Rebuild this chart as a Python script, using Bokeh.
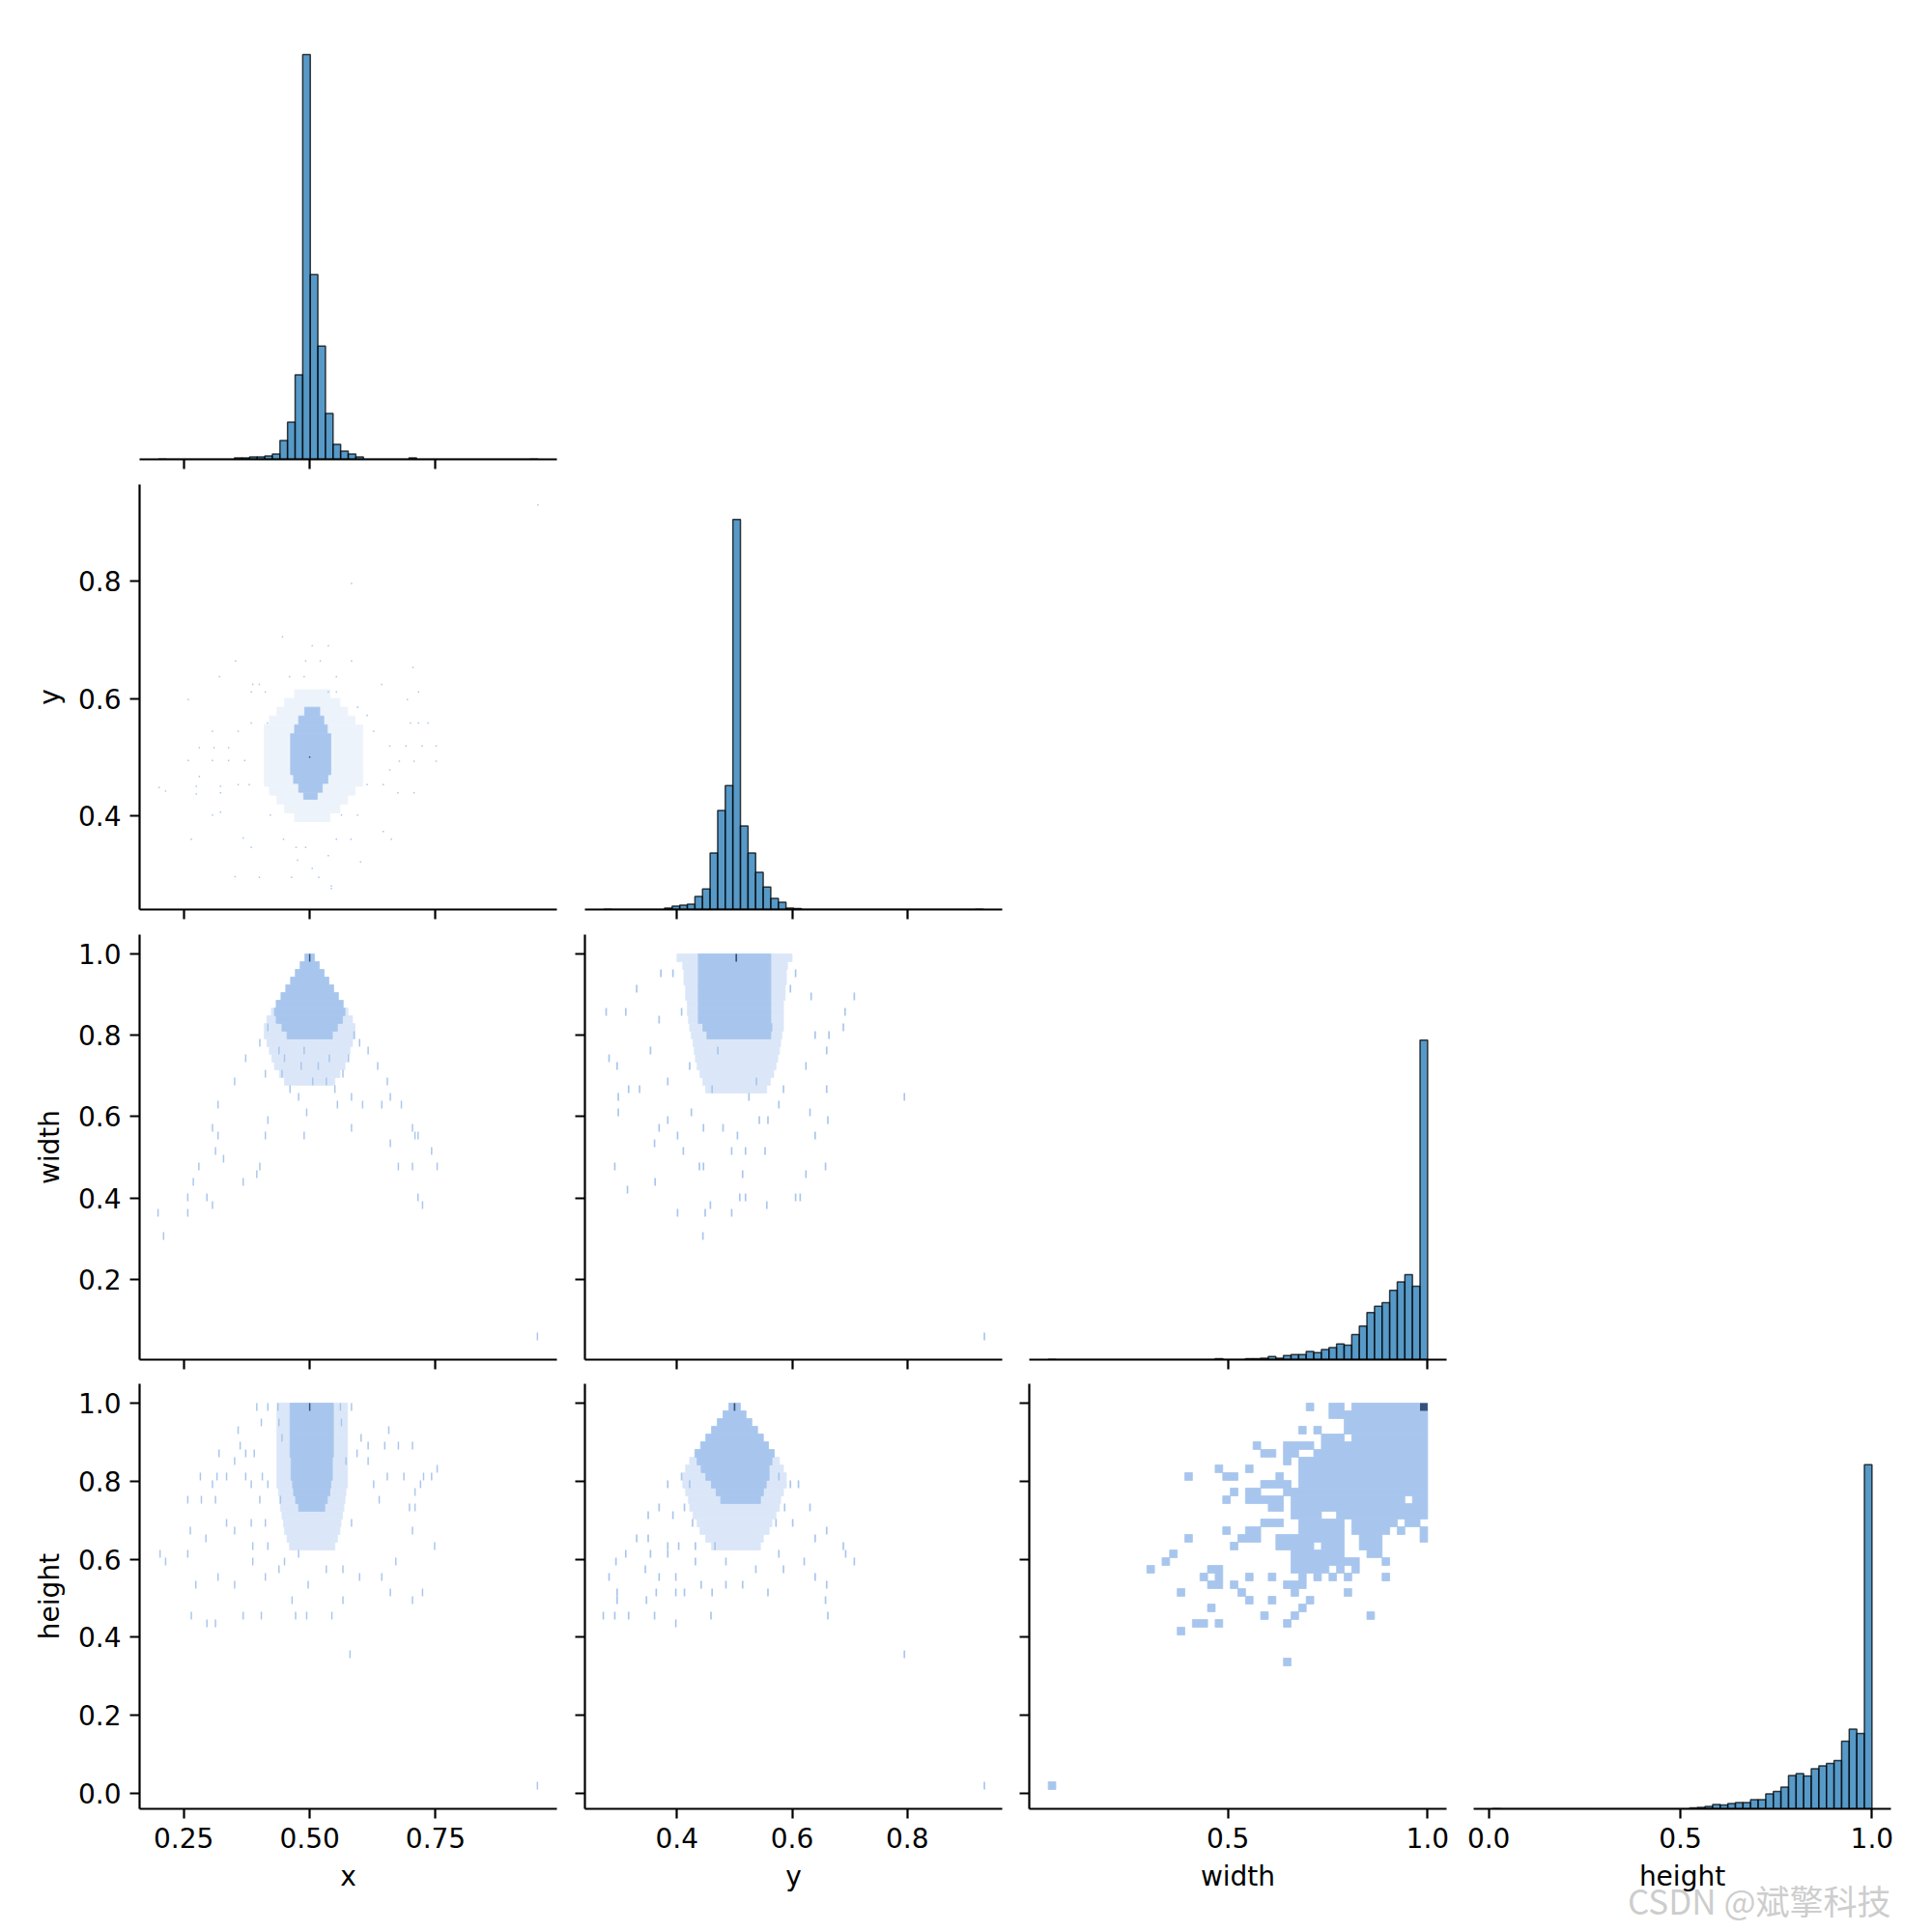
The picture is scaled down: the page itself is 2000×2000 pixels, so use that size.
import numpy as np
from bokeh.plotting import figure
from bokeh.layouts import gridplot
from bokeh.models import Range1d, FixedTicker, PrintfTickFormatter, LinearAxis, Title
from bokeh.embed import file_html
from bokeh.resources import INLINE

# ------------------------------------------------------------------ data
variables = ["x", "y", "width", "height"]
data_limits = {"x": (0.200, 0.953), "y": (0.273, 0.932),
               "width": (0.050, 1.000), "height": (0.010, 1.000)}
tick_values = {"x": [0.25, 0.50, 0.75], "y": [0.4, 0.6, 0.8],
               "width": [0.0, 0.2, 0.4, 0.6, 0.8, 1.0], "height": [0.0, 0.2, 0.4, 0.6, 0.8, 1.0]}
x_tick_values = {"x": [0.25, 0.50, 0.75], "y": [0.4, 0.6, 0.8],
                 "width": [0.0, 0.5, 1.0], "height": [0.0, 0.5, 1.0]}
tick_formats = {"x": "%.2f", "y": "%.1f", "width": "%.1f", "height": "%.1f"}

# 50-bin histogram counts (diagonal)
x_counts = [1, 0, 0, 0, 0, 0, 0, 0, 0, 0, 8, 7, 12, 12, 17, 28, 98, 193, 438, 2098,
            957, 587, 238, 78, 43, 28, 13, 0, 0, 0, 0, 0, 0, 7, 0, 0, 0, 0, 0, 0,
            0, 0, 0, 0, 0, 0, 0, 0, 0, 1]
y_counts = [1, 0, 0, 0, 0, 0, 0, 0, 8, 17, 23, 28, 68, 107, 293, 513, 642, 2022, 433, 293,
            193, 117, 58, 37, 7, 5, 0, 0, 0, 0, 0, 0, 0, 0, 0, 0, 0, 0, 0, 0,
            0, 0, 0, 0, 0, 0, 0, 0, 0, 1]
width_counts = [1, 0, 0, 0, 0, 0, 0, 0, 0, 0, 0, 0, 0, 0, 0, 0, 0, 0, 0, 0,
                0, 0, 5, 0, 0, 0, 5, 5, 8, 16, 8, 21, 26, 26, 42, 36, 52, 62, 81, 75,
                130, 174, 244, 276, 296, 359, 403, 440, 380, 1656]
height_counts = [1, 0, 0, 0, 0, 0, 0, 0, 0, 0, 0, 0, 0, 0, 0, 0, 0, 0, 0, 0,
                 0, 0, 0, 0, 0, 0, 5, 7, 12, 23, 20, 28, 33, 32, 48, 48, 78, 90, 113, 173,
                 183, 170, 208, 223, 235, 250, 350, 413, 390, 1784]
diag_counts = {"x": x_counts, "y": y_counts, "width": width_counts, "height": height_counts}

# bivariate bin sizes
fine_bin = 0.0028
fine_bin_y = 0.0025
width_bin = 0.019
height_bin = 0.0198

# --- x vs y : dense / medium blocks (x0, x1, y0, y1) and sparse cells
xy_dense = [(0.490, 0.520, 0.570, 0.585), (0.478, 0.528, 0.555, 0.570), (0.470, 0.535, 0.540, 0.555),
            (0.462, 0.542, 0.470, 0.540), (0.468, 0.536, 0.455, 0.470), (0.478, 0.525, 0.440, 0.455),
            (0.488, 0.515, 0.428, 0.440)]
xy_medium = [(0.470, 0.540, 0.600, 0.615), (0.450, 0.560, 0.585, 0.600), (0.435, 0.575, 0.570, 0.585),
             (0.420, 0.590, 0.555, 0.570), (0.410, 0.605, 0.450, 0.555), (0.420, 0.590, 0.435, 0.450),
             (0.435, 0.575, 0.420, 0.435), (0.450, 0.560, 0.405, 0.420), (0.470, 0.540, 0.390, 0.405)]
xy_sparse = [(0.953, 0.930), (0.583, 0.796), (0.446, 0.705), (0.505, 0.690), (0.537, 0.690), (0.353, 0.664),
             (0.492, 0.664), (0.521, 0.664), (0.583, 0.664), (0.705, 0.653), (0.321, 0.637), (0.460, 0.637),
             (0.489, 0.637), (0.553, 0.637), (0.643, 0.624), (0.387, 0.624), (0.400, 0.624), (0.384, 0.611),
             (0.412, 0.611), (0.537, 0.611), (0.553, 0.611), (0.716, 0.611), (0.694, 0.598), (0.259, 0.598),
             (0.595, 0.585), (0.614, 0.571), (0.307, 0.544), (0.358, 0.544), (0.384, 0.558), (0.416, 0.558),
             (0.700, 0.558), (0.716, 0.558), (0.735, 0.558), (0.627, 0.544), (0.281, 0.516), (0.310, 0.516),
             (0.339, 0.516), (0.659, 0.519), (0.691, 0.519), (0.723, 0.519), (0.751, 0.519), (0.259, 0.494),
             (0.307, 0.494), (0.339, 0.494), (0.371, 0.494), (0.678, 0.493), (0.707, 0.493), (0.751, 0.493),
             (0.281, 0.467), (0.659, 0.478), (0.201, 0.448), (0.214, 0.442), (0.275, 0.450), (0.323, 0.450),
             (0.358, 0.453), (0.380, 0.453), (0.275, 0.437), (0.323, 0.439), (0.614, 0.453), (0.646, 0.453),
             (0.675, 0.439), (0.707, 0.439), (0.307, 0.401), (0.323, 0.406), (0.422, 0.401), (0.563, 0.401),
             (0.595, 0.401), (0.265, 0.360), (0.368, 0.362), (0.384, 0.346), (0.448, 0.360), (0.553, 0.360),
             (0.582, 0.360), (0.646, 0.373), (0.662, 0.360), (0.473, 0.346), (0.492, 0.346), (0.537, 0.332),
             (0.476, 0.324), (0.601, 0.321), (0.352, 0.296), (0.400, 0.295), (0.464, 0.295), (0.505, 0.310),
             (0.518, 0.295), (0.543, 0.280), (0.543, 0.276)]
xy_peak = (0.500, 0.500)

# --- rows counted from the top bin: (row, lo, hi)
xw_dense = [(0, 0.4905, 0.5095), (1, 0.481, 0.519), (2, 0.4715, 0.5285), (3, 0.462, 0.538), (4, 0.4525, 0.5475),
            (5, 0.443, 0.557), (6, 0.4335, 0.5665), (7, 0.430, 0.570), (8, 0.435, 0.565), (9, 0.445, 0.555),
            (10, 0.455, 0.545)]
xw_medium = [(7, 0.424, 0.576), (8, 0.415, 0.585), (9, 0.410, 0.590), (10, 0.410, 0.590), (11, 0.415, 0.585),
             (12, 0.420, 0.580), (13, 0.425, 0.575), (14, 0.430, 0.570), (15, 0.440, 0.560), (16, 0.450, 0.550)]
xw_sparse = [(0.318, 0.630), (0.351, 0.692), (0.373, 0.740), (0.401, 0.787), (0.412, 0.708), (0.417, 0.810),
             (0.434, 0.834), (0.439, 0.763), (0.445, 0.708), (0.450, 0.739), (0.461, 0.676), (0.478, 0.652),
             (0.483, 0.723), (0.489, 0.763), (0.494, 0.613), (0.506, 0.684), (0.517, 0.723), (0.533, 0.684),
             (0.539, 0.739), (0.550, 0.660), (0.555, 0.621), (0.566, 0.708), (0.577, 0.739), (0.583, 0.652),
             (0.588, 0.794), (0.599, 0.779), (0.605, 0.621), (0.616, 0.755), (0.635, 0.723), (0.643, 0.636),
             (0.654, 0.684), (0.660, 0.652), (0.682, 0.621), (0.704, 0.581), (0.709, 0.549), (0.715, 0.549),
             (0.742, 0.510), (0.753, 0.486), (0.704, 0.470), (0.676, 0.486), (0.307, 0.565), (0.318, 0.549),
             (0.280, 0.470), (0.313, 0.518), (0.329, 0.502), (0.269, 0.439), (0.258, 0.407), (0.296, 0.407),
             (0.307, 0.376), (0.199, 0.360), (0.258, 0.360), (0.210, 0.312), (0.368, 0.431), (0.395, 0.455),
             (0.401, 0.486), (0.412, 0.549), (0.417, 0.597), (0.489, 0.549), (0.583, 0.565), (0.660, 0.542),
             (0.715, 0.403), (0.724, 0.387), (0.952, 0.058)]
xw_peak = (0.500, 0.9905)

yw_dense = [(0, 0.437, 0.563), (1, 0.437, 0.563), (2, 0.437, 0.563), (3, 0.437, 0.563), (4, 0.437, 0.563),
            (5, 0.437, 0.563), (6, 0.437, 0.563), (7, 0.437, 0.563), (8, 0.437, 0.563), (9, 0.445, 0.565),
            (10, 0.452, 0.563)]
yw_medium = [(0, 0.400, 0.600), (1, 0.410, 0.592), (2, 0.412, 0.590), (3, 0.412, 0.590), (4, 0.415, 0.588),
             (5, 0.415, 0.588), (6, 0.418, 0.585), (7, 0.418, 0.585), (8, 0.420, 0.585), (9, 0.422, 0.585),
             (10, 0.425, 0.582), (11, 0.428, 0.580), (12, 0.430, 0.578), (13, 0.432, 0.575), (14, 0.435, 0.572),
             (15, 0.440, 0.568), (16, 0.445, 0.562), (17, 0.450, 0.556)]
yw_sparse = [(0.277, 0.850), (0.311, 0.850), (0.330, 0.913), (0.372, 0.945), (0.369, 0.834), (0.393, 0.960),
             (0.408, 0.866), (0.606, 0.945), (0.597, 0.913), (0.633, 0.897), (0.708, 0.897), (0.692, 0.850),
             (0.689, 0.818), (0.640, 0.802), (0.664, 0.802), (0.660, 0.755), (0.624, 0.723), (0.795, 0.644),
             (0.660, 0.660), (0.585, 0.660), (0.282, 0.739), (0.296, 0.723), (0.354, 0.755), (0.335, 0.660),
             (0.316, 0.676), (0.298, 0.640), (0.298, 0.613), (0.384, 0.597), (0.425, 0.613), (0.446, 0.581),
             (0.480, 0.581), (0.505, 0.549), (0.543, 0.597), (0.558, 0.597), (0.631, 0.613), (0.662, 0.597),
             (0.640, 0.549), (0.369, 0.565), (0.401, 0.549), (0.361, 0.534), (0.411, 0.518), (0.495, 0.518),
             (0.519, 0.518), (0.553, 0.518), (0.446, 0.486), (0.439, 0.470), (0.514, 0.451), (0.624, 0.455),
             (0.658, 0.470), (0.292, 0.486), (0.362, 0.439), (0.314, 0.419), (0.401, 0.372), (0.449, 0.360),
             (0.495, 0.360), (0.458, 0.391), (0.509, 0.407), (0.519, 0.407), (0.556, 0.391), (0.606, 0.407),
             (0.614, 0.407), (0.445, 0.312), (0.934, 0.058), (0.577, 0.628), (0.525, 0.644), (0.461, 0.672),
             (0.538, 0.692), (0.384, 0.692), (0.422, 0.723), (0.471, 0.755)]
yw_peak = (0.503, 0.9905)

xh_dense = [(0, 0.461, 0.547), (1, 0.461, 0.547), (2, 0.461, 0.547), (3, 0.461, 0.547), (4, 0.461, 0.547),
            (5, 0.461, 0.547), (6, 0.461, 0.547), (7, 0.463, 0.545), (8, 0.463, 0.545), (9, 0.463, 0.545),
            (10, 0.466, 0.542), (11, 0.468, 0.540), (12, 0.472, 0.535), (13, 0.478, 0.530)]
xh_medium = [(0, 0.435, 0.575), (1, 0.435, 0.575), (2, 0.435, 0.575), (3, 0.435, 0.575), (4, 0.435, 0.575),
             (5, 0.435, 0.575), (6, 0.435, 0.575), (7, 0.435, 0.575), (8, 0.435, 0.575), (9, 0.435, 0.575),
             (10, 0.435, 0.575), (11, 0.438, 0.572), (12, 0.440, 0.570), (13, 0.442, 0.568), (14, 0.445, 0.565),
             (15, 0.448, 0.562), (16, 0.450, 0.560), (17, 0.455, 0.555), (18, 0.460, 0.550)]
xh_sparse = [(0.395, 0.990), (0.417, 0.990), (0.437, 0.990), (0.561, 0.990), (0.583, 0.990), (0.404, 0.953),
             (0.439, 0.953), (0.563, 0.953), (0.358, 0.936), (0.657, 0.936), (0.445, 0.916), (0.602, 0.916),
             (0.616, 0.895), (0.649, 0.895), (0.676, 0.895), (0.704, 0.895), (0.362, 0.895), (0.320, 0.878),
             (0.351, 0.854), (0.373, 0.878), (0.390, 0.878), (0.594, 0.878), (0.572, 0.845), (0.616, 0.845),
             (0.753, 0.841), (0.742, 0.821), (0.283, 0.821), (0.316, 0.804), (0.335, 0.804), (0.373, 0.804),
             (0.406, 0.804), (0.654, 0.804), (0.687, 0.804), (0.726, 0.804), (0.307, 0.783), (0.384, 0.783),
             (0.417, 0.783), (0.627, 0.783), (0.720, 0.783), (0.709, 0.767), (0.258, 0.746), (0.285, 0.746),
             (0.313, 0.746), (0.401, 0.746), (0.442, 0.746), (0.638, 0.746), (0.698, 0.730), (0.709, 0.730),
             (0.335, 0.696), (0.384, 0.696), (0.412, 0.696), (0.583, 0.696), (0.263, 0.672), (0.294, 0.659),
             (0.351, 0.672), (0.387, 0.639), (0.417, 0.639), (0.704, 0.672), (0.748, 0.634), (0.203, 0.618),
             (0.214, 0.597), (0.258, 0.618), (0.387, 0.597), (0.450, 0.597), (0.478, 0.618), (0.533, 0.581),
             (0.566, 0.581), (0.671, 0.597), (0.274, 0.539), (0.318, 0.560), (0.351, 0.527), (0.412, 0.560),
             (0.439, 0.581), (0.497, 0.527), (0.566, 0.502), (0.599, 0.560), (0.643, 0.549), (0.660, 0.523),
             (0.724, 0.523), (0.465, 0.486), (0.494, 0.465), (0.544, 0.461), (0.704, 0.486), (0.265, 0.448),
             (0.368, 0.448), (0.404, 0.448), (0.472, 0.448), (0.296, 0.428), (0.313, 0.428), (0.580, 0.353),
             (0.952, 0.014)]
xh_peak = (0.500, 0.990)

yh_dense = [(0, 0.490, 0.510), (1, 0.480, 0.520), (2, 0.470, 0.530), (3, 0.460, 0.540), (4, 0.450, 0.550),
            (5, 0.441, 0.559), (6, 0.431, 0.569), (7, 0.435, 0.565), (8, 0.442, 0.560), (9, 0.450, 0.560),
            (10, 0.460, 0.555), (11, 0.468, 0.550), (12, 0.476, 0.545)]
yh_medium = [(7, 0.422, 0.578), (8, 0.415, 0.585), (9, 0.410, 0.590), (10, 0.410, 0.590), (11, 0.415, 0.585),
             (12, 0.420, 0.580), (13, 0.422, 0.578), (14, 0.428, 0.572), (15, 0.435, 0.565), (16, 0.440, 0.560),
             (17, 0.450, 0.550), (18, 0.460, 0.545)]
yh_sparse = [(0.408, 0.821), (0.422, 0.796), (0.461, 0.796), (0.577, 0.821), (0.597, 0.796), (0.611, 0.783),
             (0.384, 0.783), (0.369, 0.730), (0.393, 0.709), (0.413, 0.730), (0.587, 0.730), (0.631, 0.730),
             (0.350, 0.709), (0.427, 0.692), (0.572, 0.692), (0.601, 0.692), (0.660, 0.672), (0.330, 0.655),
             (0.350, 0.655), (0.384, 0.639), (0.403, 0.639), (0.432, 0.639), (0.466, 0.639), (0.640, 0.655),
             (0.689, 0.639), (0.311, 0.618), (0.354, 0.618), (0.384, 0.618), (0.432, 0.597), (0.485, 0.597),
             (0.577, 0.618), (0.621, 0.597), (0.693, 0.618), (0.708, 0.597), (0.294, 0.597), (0.282, 0.560),
             (0.345, 0.577), (0.369, 0.560), (0.398, 0.560), (0.442, 0.539), (0.485, 0.539), (0.537, 0.577),
             (0.585, 0.577), (0.640, 0.560), (0.660, 0.539), (0.296, 0.523), (0.364, 0.523), (0.413, 0.523),
             (0.461, 0.523), (0.514, 0.539), (0.558, 0.523), (0.398, 0.506), (0.296, 0.502), (0.347, 0.486),
             (0.658, 0.486), (0.272, 0.465), (0.459, 0.465), (0.662, 0.465), (0.292, 0.448), (0.316, 0.448),
             (0.361, 0.448), (0.398, 0.432), (0.795, 0.353), (0.934, 0.014)]
yh_peak = (0.500, 0.990)

# width vs height: runs of occupied cells (height bin, first width bin, last width bin)
wh_runs = [(49, 34, 34), (49, 37, 38), (49, 40, 49), (48, 37, 49), (47, 39, 49), (46, 33, 33), (46, 35, 35),
           (46, 39, 49), (45, 36, 38), (45, 40, 49), (44, 27, 27), (44, 31, 34), (44, 36, 49), (43, 28, 29),
           (43, 31, 32), (43, 35, 49), (42, 31, 31), (42, 33, 49), (41, 22, 22), (41, 26, 26), (41, 33, 49),
           (40, 18, 18), (40, 23, 24), (40, 30, 30), (40, 33, 49), (39, 28, 31), (39, 33, 49), (38, 24, 24),
           (38, 26, 27), (38, 31, 49), (37, 23, 23), (37, 26, 30), (37, 32, 46), (37, 48, 49), (36, 29, 30),
           (36, 32, 49), (35, 32, 35), (35, 38, 49), (34, 28, 30), (34, 33, 38), (34, 40, 45), (34, 47, 48),
           (33, 23, 23), (33, 26, 27), (33, 33, 38), (33, 40, 44), (33, 46, 46), (33, 49, 49), (32, 18, 18),
           (32, 25, 27), (32, 30, 38), (32, 41, 43), (32, 49, 49), (31, 24, 24), (31, 30, 34), (31, 36, 38),
           (31, 41, 43), (30, 16, 16), (30, 32, 38), (30, 42, 43), (29, 15, 15), (29, 32, 40), (29, 44, 44),
           (28, 13, 13), (28, 21, 22), (28, 32, 36), (28, 38, 38), (28, 40, 40), (27, 20, 20), (27, 22, 22),
           (27, 26, 26), (27, 29, 29), (27, 33, 33), (27, 35, 35), (27, 37, 37), (27, 39, 39), (27, 44, 44),
           (26, 21, 22), (26, 24, 24), (26, 31, 33), (25, 17, 17), (25, 25, 25), (25, 32, 32), (25, 39, 39),
           (24, 26, 26), (24, 29, 29), (24, 34, 34), (23, 21, 21), (23, 33, 33), (22, 28, 28), (22, 32, 32),
           (22, 42, 42), (21, 19, 20), (21, 22, 22), (21, 31, 31), (20, 17, 17), (16, 31, 31), (0, 0, 0)]
wh_peak = (49, 49)

watermark = "CSDN @斌擎科技"

# ------------------------------------------------------------------ style
FONT = "DejaVu Sans"
BAR_FILL = "#1f77b4"
CELL = "#a8c6ed"
CELL_MED = "#dbe7f8"
CELL_MED_XY = "#edf3fb"
PEAK = "#35507a"
FRAME_W, FRAME_H = 432, 440
col_left = [144, 15, 14, 14]
col_right = [14, 14, 14, 35]
row_top = [35, 13, 13, 13]
row_bottom = [13, 13, 12, 120]


def pad_range(lo, hi):
    r = hi - lo
    return Range1d(lo - 0.05 * r, hi + 0.05 * r)


ranges_x = {v: pad_range(*data_limits[v]) for v in variables}
ranges_y = {v: pad_range(*data_limits[v]) for v in variables}
diag_max = max(max(c) for c in diag_counts.values())
diag_range = Range1d(0, diag_max * 1.05)


def style_axis(ax, ticks, fmt, show_labels, label=None):
    ax.ticker = FixedTicker(ticks=ticks)
    ax.formatter = PrintfTickFormatter(format=fmt)
    ax.axis_line_color = "black"
    ax.axis_line_width = 2.2
    ax.major_tick_line_color = "black"
    ax.major_tick_line_width = 2.2
    ax.major_tick_out = 10
    ax.major_tick_in = 0
    ax.minor_tick_line_color = None
    ax.minor_tick_out = 0
    ax.minor_tick_in = 0
    if show_labels:
        ax.major_label_text_font = FONT
        ax.major_label_text_font_size = "28px"
        ax.major_label_text_color = "black"
        ax.major_label_standoff = 9
    else:
        ax.major_label_text_font_size = "1px"
        ax.major_label_text_color = None
        ax.major_label_standoff = 0
    if label is not None:
        ax.axis_label = label
        ax.axis_label_text_font = FONT
        ax.axis_label_text_font_size = "28px"
        ax.axis_label_text_font_style = "normal"
        ax.axis_label_text_color = "black"
        ax.axis_label_standoff = 10


def make_fig(r, c, yr):
    xv = variables[c]
    p = figure(frame_width=FRAME_W, frame_height=FRAME_H, x_range=ranges_x[xv], y_range=yr,
               output_backend="svg", toolbar_location=None, x_axis_type=None, y_axis_type=None,
               min_border_left=col_left[c], min_border_right=col_right[c],
               min_border_top=row_top[r], min_border_bottom=row_bottom[r],
               background_fill_color="white", border_fill_color="white", outline_line_color=None)
    bottom_row = (r == 3)
    ax = LinearAxis()
    style_axis(ax, x_tick_values[xv], tick_formats[xv], bottom_row, xv if bottom_row else None)
    p.add_layout(ax, "below")
    return p


def add_left_axis(p, r, c):
    yv = variables[r]
    ay = LinearAxis()
    style_axis(ay, tick_values[yv], tick_formats[yv], c == 0, yv if c == 0 else None)
    p.add_layout(ay, "left")


def draw_rows(p, rows, top_edge, bh, color):
    ks, lo, hi = zip(*rows)
    top = [top_edge - k * bh for k in ks]
    p.quad(left=list(lo), right=list(hi), top=top, bottom=[t - bh for t in top],
           fill_color=color, line_color=color, line_width=0.8)


def draw_sparse(p, pts, bx, top_edge, bh, color):
    xs, ys = zip(*pts)
    ks = [np.floor((top_edge - v) / bh) for v in ys]
    top = [top_edge - k * bh for k in ks]
    p.quad(left=[x - bx / 2 for x in xs], right=[x + bx / 2 for x in xs], top=top,
           bottom=[t - bh for t in top], fill_color=color, line_color=None)


def draw_blocks(p, blocks, color):
    x0, x1, y0, y1 = zip(*blocks)
    p.quad(left=list(x0), right=list(x1), bottom=list(y0), top=list(y1),
           fill_color=color, line_color=color, line_width=0.8)


def draw_point_cells(p, pts, bx, by, color):
    xs, ys = zip(*pts)
    p.quad(left=[x - bx / 2 for x in xs], right=[x + bx / 2 for x in xs],
           bottom=[y - by / 2 for y in ys], top=[y + by / 2 for y in ys], fill_color=color, line_color=None)


grid = [[None] * 4 for _ in range(4)]

# diagonal histograms
for i, v in enumerate(variables):
    p = make_fig(i, i, diag_range)
    lo, hi = data_limits[v]
    edges = np.linspace(lo, hi, 51)
    p.quad(left=edges[:-1], right=edges[1:], bottom=0, top=diag_counts[v],
           fill_color=BAR_FILL, fill_alpha=0.75, line_color="black", line_alpha=0.75, line_width=1.5)
    grid[i][i] = p

# x vs y
p = make_fig(1, 0, ranges_y["y"])
add_left_axis(p, 1, 0)
draw_blocks(p, xy_medium, CELL_MED_XY)
draw_blocks(p, xy_dense, CELL)
draw_point_cells(p, xy_sparse, fine_bin, fine_bin_y, CELL)
draw_point_cells(p, [xy_peak], fine_bin, fine_bin_y, PEAK)
grid[1][0] = p

# x vs width, y vs width
for c, (med, dense, sparse, peak) in enumerate([(xw_medium, xw_dense, xw_sparse, xw_peak),
                                                (yw_medium, yw_dense, yw_sparse, yw_peak)]):
    p = make_fig(2, c, ranges_y["width"])
    add_left_axis(p, 2, c)
    top_edge = data_limits["width"][1]
    draw_rows(p, med, top_edge, width_bin, CELL_MED)
    draw_rows(p, dense, top_edge, width_bin, CELL)
    draw_sparse(p, sparse, fine_bin, top_edge, width_bin, CELL)
    draw_sparse(p, [peak], fine_bin, top_edge, width_bin, PEAK)
    grid[2][c] = p

# x vs height, y vs height
for c, (med, dense, sparse, peak) in enumerate([(xh_medium, xh_dense, xh_sparse, xh_peak),
                                                (yh_medium, yh_dense, yh_sparse, yh_peak)]):
    p = make_fig(3, c, ranges_y["height"])
    add_left_axis(p, 3, c)
    top_edge = data_limits["height"][1]
    draw_rows(p, med, top_edge, height_bin, CELL_MED)
    draw_rows(p, dense, top_edge, height_bin, CELL)
    draw_sparse(p, sparse, fine_bin, top_edge, height_bin, CELL)
    draw_sparse(p, [peak], fine_bin, top_edge, height_bin, PEAK)
    grid[3][c] = p

# width vs height
p = make_fig(3, 2, ranges_y["height"])
add_left_axis(p, 3, 2)
w0 = data_limits["width"][0]
h0 = data_limits["height"][0]
wbw = (data_limits["width"][1] - w0) / 50
hbw = (data_limits["height"][1] - h0) / 50
j, k0, k1 = zip(*wh_runs)
p.quad(left=[w0 + a * wbw for a in k0], right=[w0 + (b + 1) * wbw for b in k1],
       bottom=[h0 + a * hbw for a in j], top=[h0 + (a + 1) * hbw for a in j],
       fill_color=CELL, line_color=CELL, line_width=0.8)
p.quad(left=[w0 + wh_peak[1] * wbw], right=[w0 + (wh_peak[1] + 1) * wbw],
       bottom=[h0 + wh_peak[0] * hbw], top=[h0 + (wh_peak[0] + 1) * hbw], fill_color=PEAK, line_color=None)
grid[3][2] = p

# watermark: a right-aligned title under the last panel
wm = Title(text=watermark, align="right", standoff=-45,
           text_font="Noto Sans CJK SC", text_font_size="35px", text_font_style="normal",
           text_color="#c4c4c4", text_alpha=0.85)
grid[3][3].add_layout(wm, "below")

layout = gridplot(grid, toolbar_location=None)
open("out.html", "w").write(file_html(layout, INLINE))
